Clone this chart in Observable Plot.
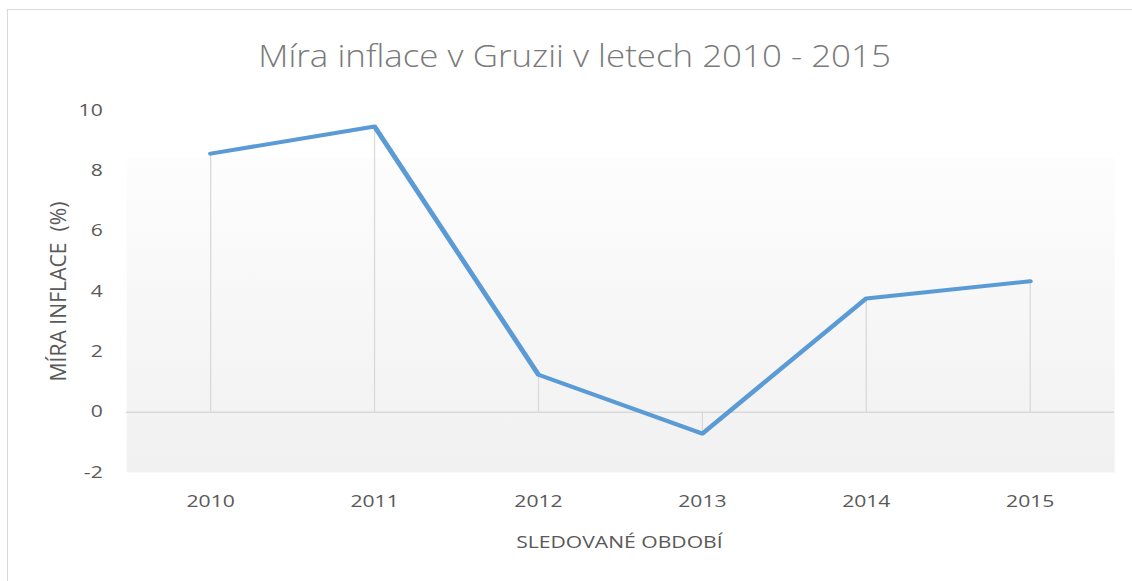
<!DOCTYPE html>
<html>
<head>
<meta charset="utf-8">
<script src="https://cdn.jsdelivr.net/npm/d3@7"></script>
<script src="https://cdn.jsdelivr.net/npm/@observablehq/plot@0.6"></script>
<style>
  html, body { margin: 0; padding: 0; background: #fff; }
  #wrap { position: relative; width: 1132px; height: 581px; overflow: hidden; font-family: "Open Sans", sans-serif; }
  #frame { position: absolute; left: 7px; top: 9px; width: 1200px; height: 700px; border-left: 1.5px solid #d9d9d9; border-top: 1.5px solid #d9d9d9; }
  #chart { position: absolute; left: 0; top: 0; }
</style>
</head>
<body>
<div id="wrap">
  <div id="frame"></div>
  <div id="chart"></div>
</div>
<script>
const title = "Míra inflace v Gruzii v letech 2010 - 2015";
const years = ["2010", "2011", "2012", "2013", "2014", "2015"];
const inflation = [8.57, 9.47, 1.24, -0.71, 3.77, 4.34];
const yTicks = [-2, 0, 2, 4, 6, 8, 10];
const yLabel = "MÍRA INFLACE  (%)";
const xLabel = "SLEDOVANÉ OBDOBÍ";

const data = years.map((year, i) => ({year, value: inflation[i]}));

// The reference chart is horizontally stretched; draw at an inner width and stretch the SVG.
const outerW = 1132, H = 581, innerW = 884;

const gradient = () => {
  const defs = d3.create("svg:defs");
  const g = defs.append("linearGradient").attr("id", "bggrad").attr("x1", 0).attr("y1", 0).attr("x2", 0).attr("y2", 1);
  g.append("stop").attr("offset", "0").attr("stop-color", "#ffffff");
  g.append("stop").attr("offset", "0.13").attr("stop-color", "#ffffff");
  g.append("stop").attr("offset", "0.131").attr("stop-color", "#fdfdfd");
  g.append("stop").attr("offset", "0.83").attr("stop-color", "#f3f3f3");
  g.append("stop").attr("offset", "1").attr("stop-color", "#f1f1f1");
  return defs.node();
};

const plot = Plot.plot({
  width: innerW,
  height: H,
  marginTop: 110,
  marginBottom: 109,
  marginLeft: 98.4,
  marginRight: 14,
  style: { fontFamily: "Open Sans, sans-serif", fontSize: "16.5px", color: "#595959", background: "transparent", overflow: "visible" },
  x: { type: "point", domain: years, padding: 0.5, label: null },
  y: { domain: [-2, 10], label: null },
  marks: [
    gradient,
    Plot.frame({ fill: "url(#bggrad)", stroke: "none" }),
    Plot.ruleX(data, { x: "year", y1: 0, y2: "value", stroke: "#d9d9d9", strokeWidth: 1 }),
    Plot.ruleY([0], { stroke: "#d9d9d9", strokeWidth: 1.5 }),
    Plot.line(data, { x: "year", y: "value", stroke: "#5b9bd5", strokeWidth: 4, strokeLinejoin: "round", strokeLinecap: "round" }),
    Plot.axisY({ ticks: yTicks, tickFormat: (d) => String(d), tickSize: 0, tickPadding: 18.7, fill: "#595959", fontSize: 16.5, label: null }),
    Plot.axisX({ tickSize: 0, tickPadding: 23, fill: "#595959", fontSize: 16.5, label: null }),
    Plot.text([yLabel], { frameAnchor: "left", textAnchor: "middle", dx: -53, rotate: -90, fill: "#595959", fontSize: 16.5, className: "y-label" }),
    Plot.text([xLabel], { frameAnchor: "bottom", lineAnchor: "bottom", dy: 75, dx: -1, fill: "#595959", fontSize: 16.5 }),
    Plot.text([title], { frameAnchor: "top", lineAnchor: "bottom", dy: -44, dx: -36, fill: "#7a7a7a", fontSize: 31.5, fontWeight: 300, className: "chart-title" })
  ]
});

plot.setAttribute("width", outerW);
plot.setAttribute("height", H);
plot.setAttribute("preserveAspectRatio", "none");
plot.style.maxWidth = "none";
plot.style.width = outerW + "px";
plot.style.height = H + "px";
d3.select(plot).selectAll(".chart-title text")
  .attr("textLength", 494)
  .attr("lengthAdjust", "spacingAndGlyphs");
d3.select(plot).selectAll(".y-label text")
  .attr("xml:space", "preserve")
  .style("white-space", "pre")
  .attr("textLength", 180)
  .attr("lengthAdjust", "spacingAndGlyphs");
document.getElementById("chart").appendChild(plot);
</script>
</body>
</html>
